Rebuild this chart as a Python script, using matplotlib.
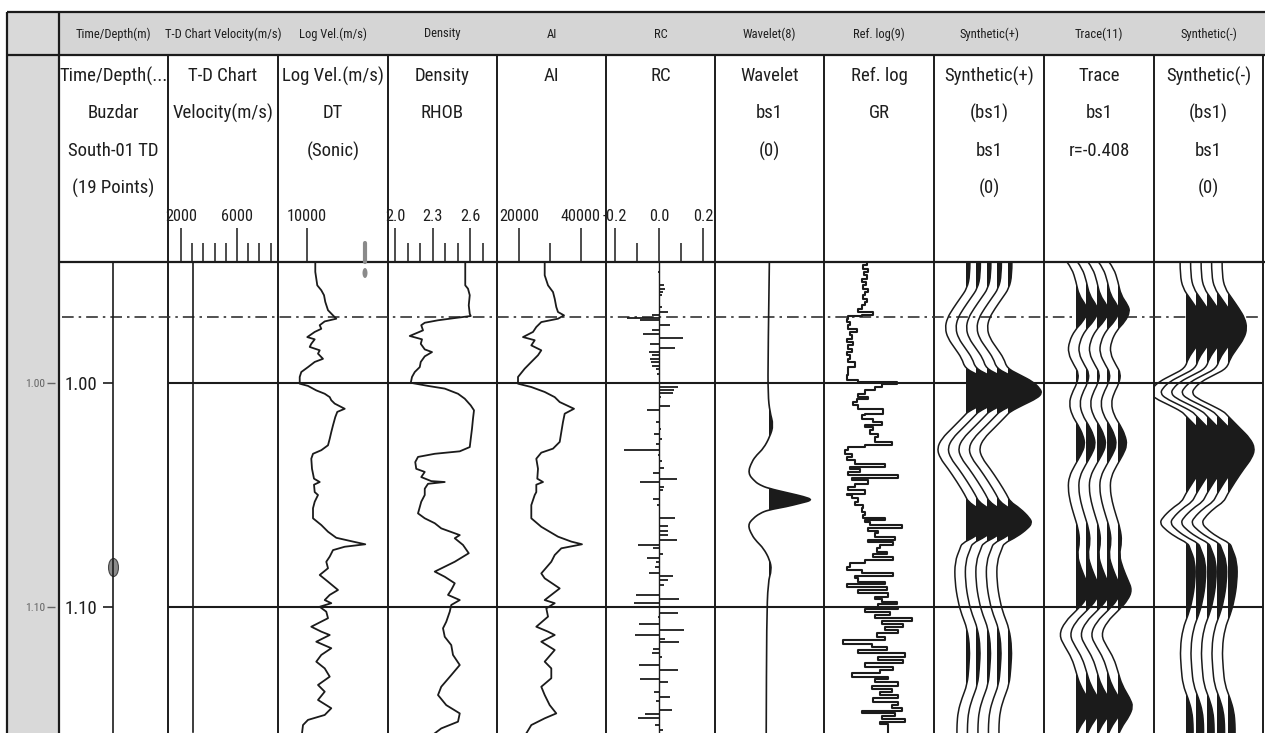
import os
import matplotlib
matplotlib.use("Agg")

import matplotlib.pyplot as plt
from matplotlib import font_manager
from matplotlib.font_manager import FontProperties
from matplotlib.path import Path
from matplotlib.patches import PathPatch, Rectangle, Ellipse
from matplotlib.transforms import Affine2D

plt.rcParams["font.family"] = ["Liberation Sans", "DejaVu Sans"]

# ---- well / seismic data (two-way time in s) ----
strip_titles = ["Time/Depth(m)", "T-D Chart Velocity(m/s)", "Log Vel.(m/s)", "Density", "AI", "RC",
                "Wavelet(8)", "Ref. log(9)", "Synthetic(+)", "Trace(11)", "Synthetic(-)"]
head_titles = [["Time/Depth(...", "Buzdar", "South-01 TD", "(19 Points)"],
               ["T-D Chart", "Velocity(m/s)"],
               ["Log Vel.(m/s)", "DT", "(Sonic)"],
               ["Density", "RHOB"],
               ["AI"],
               ["RC"],
               ["Wavelet", "bs1", "(0)"],
               ["Ref. log", "GR"],
               ["Synthetic(+)", "(bs1)", "bs1", "(0)"],
               ["Trace", "bs1", "r=-0.408"],
               ["Synthetic(-)", "(bs1)", "bs1", "(0)"]]

time_marks = [1.00, 1.10]
time_labels = ["1.00", "1.10"]
horizon_time = 0.9705
td_point_time = [1.0821]
td_time = [0.946, 1.156]
td_velocity = [2840, 2840]

vel_time = [0.9460, 0.9504, 0.9564, 0.9586, 0.9608, 0.9638, 0.9675, 0.9698, 0.9713, 0.9725,
            0.9742, 0.9758, 0.9772, 0.9795, 0.9805, 0.9825, 0.9839, 0.9854, 0.9869, 0.9892,
            0.9906, 0.9929, 0.9951, 0.9973, 1.0003, 1.0013, 1.0033, 1.0048, 1.0063, 1.0077,
            1.0092, 1.0115, 1.0129, 1.0152, 1.0189, 1.0219, 1.0249, 1.0278, 1.0300, 1.0316,
            1.0338, 1.0383, 1.0427, 1.0442, 1.0454, 1.0487,
            1.0500, 1.0530, 1.0559, 1.0604, 1.0634, 1.0664, 1.0691, 1.0708, 1.0720, 1.0731,
            1.0746, 1.0775, 1.0798, 1.0827, 1.0857, 1.0887, 1.0924, 1.0946, 1.0969, 1.0983,
            1.0999, 1.1021, 1.1050, 1.1088, 1.1110, 1.1125, 1.1155, 1.1184, 1.1214, 1.1244,
            1.1274, 1.1311, 1.1348, 1.1378, 1.1415, 1.1452, 1.1482, 1.1504, 1.1527, 1.1564]
vel_value = [10580, 10580, 10720, 11000, 11190, 11280, 11470, 11820, 12050, 11240,
             10890, 11000, 10540, 10020, 10540, 10300, 10190, 10890, 10770, 11120,
             10540, 10070, 9600, 9490, 9490, 10070, 10650, 11240, 11590, 11700,
             11940, 12640, 12120, 11980, 11820, 11700, 11590, 11470, 11000, 10420,
             10300, 10350, 10490, 10890, 10490, 10540,
             10770, 10540, 10420, 10420, 11000, 11470, 12050, 13220, 14080, 12640,
             11820, 11590, 11350, 11470, 10890, 11470, 12170, 11590, 11240, 11700,
             10890, 11350, 11470, 10300, 11000, 11590, 10650, 11700, 11000, 10650,
             11240, 11590, 10770, 11240, 10770, 11700, 11240, 10070, 9720, 9650]

dens_time = [0.9460, 0.9564, 0.9579, 0.9608, 0.9653, 0.9691, 0.9701, 0.9710, 0.9720, 0.9731,
             0.9742, 0.9765, 0.9790, 0.9805, 0.9825, 0.9850, 0.9862, 0.9881, 0.9906, 0.9929,
             0.9951, 0.9973, 0.9999, 1.0013, 1.0025, 1.0048, 1.0070, 1.0100, 1.0122, 1.0159,
             1.0204, 1.0249, 1.0286, 1.0305, 1.0316, 1.0330, 1.0353, 1.0383, 1.0397, 1.0420,
             1.0438, 1.0442, 1.0450, 1.0472,
             1.0500, 1.0530, 1.0582, 1.0604, 1.0626, 1.0649, 1.0679, 1.0693, 1.0723, 1.0760,
             1.0798, 1.0842, 1.0865, 1.0894, 1.0924, 1.0946, 1.0969, 1.0991, 1.1021, 1.1066,
             1.1095, 1.1133, 1.1170, 1.1214, 1.1259, 1.1304, 1.1356, 1.1393, 1.1438, 1.1475,
             1.1512, 1.1542, 1.1564]
dens_value = [2.562, 2.562, 2.584, 2.598, 2.590, 2.598, 2.606, 2.478, 2.344, 2.238,
              2.210, 2.224, 2.118, 2.216, 2.206, 2.238, 2.296, 2.238, 2.206, 2.198,
              2.158, 2.136, 2.126, 2.264, 2.398, 2.504, 2.558, 2.606, 2.632, 2.624,
              2.616, 2.606, 2.598, 2.518, 2.318, 2.184, 2.162, 2.170, 2.238, 2.210,
              2.290, 2.398, 2.264, 2.238,
              2.238, 2.210, 2.184, 2.238, 2.318, 2.370, 2.518, 2.478, 2.544, 2.590,
              2.478, 2.318, 2.398, 2.478, 2.450, 2.424, 2.518, 2.450, 2.438, 2.410,
              2.384, 2.398, 2.450, 2.464, 2.518, 2.450, 2.370, 2.344, 2.410, 2.518,
              2.504, 2.370, 2.318]

ai_time = [0.9460, 0.9519, 0.9564, 0.9594, 0.9624, 0.9661, 0.9683, 0.9698, 0.9713, 0.9728,
           0.9750, 0.9772, 0.9795, 0.9809, 0.9832, 0.9854, 0.9876, 0.9906, 0.9936, 0.9973,
           1.0003, 1.0018, 1.0040, 1.0063, 1.0085, 1.0115, 1.0137, 1.0174, 1.0219, 1.0263,
           1.0293, 1.0311, 1.0338, 1.0383, 1.0427, 1.0442, 1.0454, 1.0487,
           1.0500, 1.0545, 1.0604, 1.0642, 1.0686, 1.0708, 1.0720, 1.0738, 1.0768, 1.0798,
           1.0850, 1.0872, 1.0917, 1.0946, 1.0969, 1.0983, 1.1006, 1.1043, 1.1088, 1.1110,
           1.1125, 1.1155, 1.1192, 1.1244, 1.1274, 1.1318, 1.1356, 1.1393, 1.1438, 1.1475,
           1.1497, 1.1527, 1.1564]
ai_value = [28290, 28290, 29360, 30970, 31520, 32030, 32580, 34520, 32580, 27190,
            25580, 24520, 21290, 25070, 23970, 27190, 26130, 23970, 21840, 19680,
            19680, 23970, 28290, 31520, 33130, 37740, 34740, 34190, 33650, 33130,
            30970, 27190, 25580, 26130, 25900, 27740, 25580, 25580,
            25070, 23970, 23970, 27190, 32580, 36870, 40320, 33650, 31520, 30420,
            27190, 28290, 33130, 30420, 28290, 31520, 28810, 29360, 25580, 29360,
            31520, 27190, 31520, 28290, 30420, 30420, 27190, 28290, 29900, 32030,
            28290, 23970, 22360]

rc_time = [0.9504, 0.9564, 0.9579, 0.9594, 0.9609, 0.9661, 0.9683, 0.9698, 0.9710, 0.9720,
           0.9743, 0.9765, 0.9780, 0.9799, 0.9824, 0.9844, 0.9862, 0.9876, 0.9891, 0.9906,
           0.9924, 0.9939, 0.9958, 1.0018, 1.0033, 1.0043, 1.0062, 1.0103, 1.0122, 1.0174,
           1.0204, 1.0226, 1.0249, 1.0271, 1.0301, 1.0323, 1.0350, 1.0379, 1.0400, 1.0427,
           1.0442, 1.0464, 1.0479, 1.0519, 1.0546, 1.0603, 1.0638, 1.0662, 1.0680, 1.0699,
           1.0722, 1.0737, 1.0762, 1.0781, 1.0799, 1.0821, 1.0847, 1.0863, 1.0881, 1.0900,
           1.0945, 1.0963, 1.0981, 1.1025, 1.1045, 1.1076, 1.1104, 1.1123, 1.1141, 1.1156,
           1.1186, 1.1204, 1.1223, 1.1257, 1.1283, 1.1320, 1.1335, 1.1379, 1.1402, 1.1421,
           1.1461, 1.1476, 1.1496, 1.1525, 1.1551]
rc_value = [-0.003, 0.023, 0.027, 0.020, 0.012, 0.012, 0.042, -0.033, -0.147, -0.086,
            0.050, -0.033, -0.071, 0.108, -0.041, 0.073, -0.044, -0.033, -0.041, -0.038,
            -0.033, -0.014, -0.008, 0.088, 0.068, 0.062, 0.008, 0.050, -0.053, -0.014,
            0.009, -0.023, 0.012, -0.014, -0.159, -0.003, 0.012, 0.023, -0.026, 0.080,
            -0.086, 0.023, 0.017, -0.026, -0.011, 0.073, 0.042, 0.042, 0.042, 0.083,
            -0.094, -0.029, 0.020, -0.056, -0.014, -0.018, -0.044, 0.062, 0.042, 0.023,
            -0.105, 0.092, -0.112, 0.088, -0.003, -0.089, 0.114, -0.109, 0.027, 0.092,
            -0.026, -0.033, 0.012, -0.089, 0.088, -0.086, 0.042, -0.023, 0.050, -0.014,
            0.058, -0.064, -0.094, -0.018, 0.020]

wavelet_time = [0.9460, 0.9875, 1.0054, 1.0128, 1.0188, 1.0240, 1.0292, 1.0321, 1.0351, 1.0403,
                1.0440, 1.0455, 1.0470, 1.0493, 1.0507, 1.0522, 1.0537, 1.0552, 1.0567, 1.0582,
                1.0604, 1.0634, 1.0679, 1.0708, 1.0738, 1.0790, 1.0835, 1.0887, 1.1066, 1.1563]
wavelet_amp = [0.03, 0.00, 0.00, 0.04, 0.12, 0.04, -0.10, -0.25, -0.36, -0.45,
               -0.29, -0.18, 0.00, 0.49, 0.79, 1.00, 0.71, 0.41, 0.00, -0.18,
               -0.33, -0.45, -0.36, -0.25, -0.10, 0.04, 0.08, 0.00, -0.03, -0.04]

gr_time = [0.9460, 0.9475, 0.9490, 0.9505, 0.9520, 0.9534, 0.9549, 0.9564, 0.9579, 0.9594,
           0.9609, 0.9624, 0.9639, 0.9653, 0.9668, 0.9683, 0.9695, 0.9703, 0.9713, 0.9728,
           0.9743, 0.9758, 0.9772, 0.9787, 0.9802, 0.9817, 0.9832, 0.9847, 0.9862, 0.9877,
           0.9891, 0.9906, 0.9929, 0.9944, 0.9966, 0.9988, 0.9996, 1.0003, 1.0018, 1.0033,
           1.0048, 1.0063, 1.0070, 1.0085, 1.0100, 1.0115, 1.0137, 1.0145, 1.0159, 1.0174,
           1.0186, 1.0197, 1.0211, 1.0226, 1.0241, 1.0264, 1.0278, 1.0286, 1.0301, 1.0316,
           1.0330, 1.0345, 1.0360, 1.0375, 1.0386, 1.0397, 1.0412, 1.0424, 1.0435, 1.0450,
           1.0464, 1.0479, 1.0494,
           1.0500, 1.0515, 1.0530, 1.0545, 1.0560, 1.0574, 1.0589, 1.0604, 1.0612, 1.0622,
           1.0634, 1.0649, 1.0661, 1.0671, 1.0686, 1.0701, 1.0711, 1.0723, 1.0738, 1.0753,
           1.0765, 1.0775, 1.0790, 1.0805, 1.0820, 1.0835, 1.0850, 1.0860, 1.0872, 1.0887,
           1.0899, 1.0909, 1.0924, 1.0939, 1.0954, 1.0964, 1.0976, 1.0988, 1.0999, 1.1010,
           1.1024, 1.1036, 1.1048, 1.1063, 1.1074, 1.1088, 1.1103, 1.1118, 1.1132, 1.1147,
           1.1167, 1.1177, 1.1192, 1.1207, 1.1222, 1.1237, 1.1251, 1.1266, 1.1281, 1.1296,
           1.1311, 1.1321, 1.1333, 1.1351, 1.1366, 1.1378, 1.1393, 1.1408, 1.1423, 1.1438,
           1.1452, 1.1464, 1.1475, 1.1485, 1.1500, 1.1512, 1.1524, 1.1542, 1.1564]
gr_value = [55.9, 58.2, 53.6, 59.5, 55.0, 58.2, 51.4, 56.8, 53.6, 59.5,
            55.9, 53.6, 58.2, 55.9, 51.4, 46.8, 67.3, 51.4, 33.2, 30.9,
            35.5, 33.2, 44.5, 35.5, 37.7, 30.9, 40.0, 33.2, 37.7, 30.9,
            35.5, 33.2, 42.3, 32.3, 33.2, 30.9, 46.8, 99.1, 78.6, 69.5,
            55.9, 46.8, 60.4, 44.5, 40.0, 46.8, 80.9, 55.9, 51.4, 67.3,
            78.6, 55.9, 67.3, 62.7, 74.1, 69.5, 92.3, 55.9, 33.2, 28.6,
            37.7, 30.9, 42.3, 83.2, 35.5, 49.1, 33.2, 101.4, 37.7, 60.4,
            42.3, 33.2, 55.9,
            30.9, 37.7, 46.8, 42.3, 53.6, 51.4, 55.9, 53.6, 83.2, 55.9,
            62.7, 105.9, 60.4, 74.1, 69.5, 96.8, 60.4, 94.5, 76.4, 71.8,
            85.4, 67.3, 94.5, 55.9, 35.5, 30.9, 51.4, 94.5, 42.3, 46.8,
            83.2, 30.9, 85.4, 46.8, 87.7, 69.5, 78.6, 99.1, 74.1, 101.4,
            55.9, 90.0, 69.5, 119.5, 78.6, 108.2, 83.2, 101.4, 71.8, 83.2,
            26.4, 65.0, 85.4, 46.8, 110.4, 74.1, 108.2, 55.9, 94.5, 76.4,
            37.7, 87.7, 69.5, 101.4, 65.0, 92.3, 76.4, 101.4, 67.3, 101.4,
            92.3, 105.9, 51.4, 96.8, 78.6, 110.4, 76.4, 87.7, 87.7]

synth_time = [0.9460, 0.9518, 0.9577, 0.9622, 0.9667, 0.9711, 0.9756, 0.9800, 0.9845, 0.9890,
              0.9934, 0.9964, 0.9994, 1.0024, 1.0046, 1.0068, 1.0098, 1.0128, 1.0143, 1.0202,
              1.0247, 1.0292, 1.0336, 1.0381, 1.0441, 1.0500, 1.0530, 1.0559, 1.0604, 1.0626,
              1.0649, 1.0686, 1.0716, 1.0738, 1.0798, 1.0887, 1.0976, 1.1036, 1.1095, 1.1184,
              1.1274, 1.1348, 1.1408, 1.1467, 1.1527, 1.1563]
synth_amp = [0.14, 0.14, 0.06, -0.14, -0.34, -0.51, -0.57, -0.49, -0.29, -0.09,
             0.00, 0.37, 0.74, 0.94, 1.00, 0.86, 0.46, 0.09, 0.00, -0.37,
             -0.66, -0.80, -0.71, -0.49, -0.23, 0.00, 0.09, 0.37, 0.66, 0.71,
             0.60, 0.29, -0.09, -0.14, -0.29, -0.29, -0.20, -0.09, 0.06, 0.14,
             0.11, 0.06, -0.09, -0.20, -0.23, -0.23]

trace_time = [0.9460, 0.9488, 0.9548, 0.9607, 0.9652, 0.9682, 0.9726, 0.9763, 0.9816, 0.9867,
              0.9920, 0.9957, 1.0001, 1.0046, 1.0091, 1.0143, 1.0188, 1.0232, 1.0277, 1.0321,
              1.0366, 1.0418, 1.0470, 1.0530, 1.0589, 1.0649, 1.0708, 1.0768, 1.0827, 1.0879,
              1.0924, 1.0969, 1.1013, 1.1066, 1.1125, 1.1177, 1.1229, 1.1289, 1.1348, 1.1408,
              1.1445, 1.1490, 1.1527, 1.1563]
trace_amp = [-0.23, -0.09, 0.03, 0.11, 0.31, 0.37, 0.23, 0.00, -0.17, -0.20,
             -0.03, 0.11, 0.06, -0.09, -0.17, -0.09, 0.09, 0.23, 0.29, 0.17,
             0.00, -0.17, -0.20, -0.14, -0.03, 0.09, 0.14, 0.06, 0.17, 0.31,
             0.43, 0.31, 0.06, -0.29, -0.46, -0.29, -0.09, 0.03, 0.14, 0.37,
             0.46, 0.34, 0.17, 0.06]

# ---- layout ----
W, H = 1265, 733
T_TOP, T_BOT = 0.94598, 1.15625
INK = "#1b1b1b"
col_edges = [59, 168, 278, 388, 497, 606, 715, 824, 934, 1044, 1154, 1263]
GAIN = 35          # px per unit amplitude on the seismic tracks


def pick_face():
    # prefer a narrow sans face for the crowded headers
    wanted = ["liberationsansnarrow-regular", "robotocondensed-regular", "dejavusanscondensed.",
              "opensans_condensed-regular", "opensanscondensed-regular", "notosans-condensed."]
    files = [f.fname for f in font_manager.fontManager.ttflist]
    for key in wanted:
        for fn in files:
            if os.path.basename(fn).lower().startswith(key):
                return FontProperties(fname=fn)
    return FontProperties(family="Liberation Sans")


def box(x0, y0, x1, y1):
    return [x0 / W, 1 - y1 / H, (x1 - x0) / W, (y1 - y0) / H]


fig = plt.figure(figsize=(W / 100, H / 100), dpi=100)
fig.patch.set_facecolor("white")
renderer = fig.canvas.get_renderer()
face = pick_face()


def fitted(sample, width_px):
    probe_fp = face.copy()
    probe_fp.set_size(20)
    probe = fig.text(0, 0, sample, fontproperties=probe_fp)
    w = probe.get_window_extent(renderer).width
    probe.remove()
    fp = face.copy()
    fp.set_size(20 * width_px / w)
    return fp


fp_head = fitted("Log Vel.(m/s)", 102)
fp_scale = fitted("40000", 40)
fp_strip = fitted("T-D Chart Velocity(m/s)", 116)
fp_margin = fitted("1.00", 20)


def track(i, xlim):
    ax = fig.add_axes(box(col_edges[i], 262, col_edges[i + 1], 733))
    ax.set_xlim(*xlim)
    ax.set_ylim(T_BOT, T_TOP)
    ax.patch.set_visible(False)
    for s in ax.spines.values():
        s.set_visible(False)
    ax.set_xticks([])
    ax.set_yticks([])
    return ax


def header_scale(ax, major, labels, minor):
    ax.set_xticks(major)
    ax.set_xticks(minor, minor=True)
    ax.tick_params(axis="x", which="both", top=True, bottom=False, labeltop=True,
                   labelbottom=False, direction="out", width=1.1, color=INK)
    ax.tick_params(axis="x", which="major", length=24.5, pad=3, labelcolor="#1e1e1e")
    ax.tick_params(axis="x", which="minor", length=13.5)
    ax.set_xticklabels(labels, fontproperties=fp_scale)


def smooth(xs, ys):
    # quadratic Bezier through the midpoints, samples act as control points
    verts = [(xs[0], ys[0])]
    codes = [Path.MOVETO]
    for i in range(1, len(xs) - 1):
        verts += [(xs[i], ys[i]), ((xs[i] + xs[i + 1]) / 2, (ys[i] + ys[i + 1]) / 2)]
        codes += [Path.CURVE3, Path.CURVE3]
    verts.append((xs[-1], ys[-1]))
    codes.append(Path.LINETO)
    return verts, codes


def wiggle(ax, base, gain, amps, times, lw=1.1):
    verts, codes = smooth([base + gain * a for a in amps], times)
    ax.add_patch(PathPatch(Path(verts, codes), fc="none", ec=INK, lw=lw))


def positive_fill(ax, base, gain, amps, times, edge):
    # variable-area fill: region between curve and base line, kept only right of the base
    verts, codes = smooth([base + gain * a for a in amps], times)
    area = Path(verts + [(base, times[-1]), (base, times[0]), (base, times[0])],
                codes + [Path.LINETO, Path.LINETO, Path.CLOSEPOLY])
    fill = PathPatch(area, fc=INK, ec="none")
    ax.add_patch(fill)
    fill.set_clip_path(Rectangle((base + edge, T_TOP), 1000, T_BOT - T_TOP, transform=ax.transData))


# static frame: grey strips, borders, column titles
frame = fig.add_axes([0, 0, 1, 1])
frame.set_xlim(0, W)
frame.set_ylim(H, 0)
frame.axis("off")
frame.add_patch(Rectangle((7, 12), 52, H - 12, fc="#d9d9d9", ec="none"))
frame.add_patch(Rectangle((59, 12), W - 59, 43, fc="#d5d5d5", ec="none"))
frame.hlines([12, 55], 7, W, color=INK, lw=1.6)
frame.hlines(262, 59, W, color=INK, lw=1.6)
frame.vlines([7, 59], 12, H, color=INK, lw=1.6)
frame.vlines(col_edges[1:], 55, H, color=INK, lw=1.4)

for i, title in enumerate(strip_titles):
    cx = (col_edges[i] + col_edges[i + 1]) / 2
    frame.text(cx, 34, title, ha="center", va="center", fontproperties=fp_strip, color="#1e1e1e")
    for j, line in enumerate(head_titles[i]):
        frame.text(cx, 76 + 37.5 * j, line, ha="center", va="center", fontproperties=fp_head, color="#1e1e1e")

# sonic cursor mark
frame.plot([365, 365], [243, 262], color="#8a8a8a", lw=3, solid_capstyle="round")
frame.add_patch(Ellipse((365, 273), 5, 10, fc="#8a8a8a", ec="none"))

# time grid shared by all tracks
grid = fig.add_axes(box(59, 262, W, 733))
grid.set_xlim(59, W)
grid.set_ylim(T_BOT, T_TOP)
grid.axis("off")
grid.hlines(time_marks, 168, 1263, color=INK, lw=1.5)
grid.hlines(horizon_time, 62, 1263, color="#333333", lw=1.2, linestyles=[(0, (7, 3, 1.5, 3))])

# time axis in the grey margin
margin = fig.add_axes(box(55, 262, 59, 733))
margin.set_ylim(T_BOT, T_TOP)
margin.set_xticks([])
for s in margin.spines.values():
    s.set_visible(False)
margin.patch.set_visible(False)
margin.set_yticks(time_marks)
margin.tick_params(axis="y", length=6, width=1.0, color="#666", labelcolor="#666", pad=1)
margin.set_yticklabels(time_labels, fontproperties=fp_margin)

# Time/Depth column
td_ax = fig.add_axes(box(113, 262, 168, 733))
td_ax.set_xlim(0, 1)
td_ax.set_ylim(T_BOT, T_TOP)
td_ax.patch.set_visible(False)
for side in ("top", "right", "bottom"):
    td_ax.spines[side].set_visible(False)
td_ax.spines["left"].set_linewidth(1.2)
td_ax.spines["left"].set_color(INK)
td_ax.set_xticks([])
td_ax.set_yticks(time_marks)
td_ax.tick_params(axis="y", length=7, width=1.2, color=INK, labelcolor="#1e1e1e", pad=4)
td_ax.set_yticklabels(time_labels, fontproperties=fp_head)
oval = Path.unit_circle().transformed(Affine2D().scale(0.55, 1.0))
td_ax.plot([0] * len(td_point_time), td_point_time, linestyle="none", marker=oval, markersize=13,
           mfc="#8c8c8c", mec="#444", mew=0.8, clip_on=False)

# T-D chart velocity
ax = track(1, (1071, 8929))
header_scale(ax, [2000, 6000], ["2000", "6000"], [2800, 3600, 4400, 5200, 6800, 7600, 8400])
ax.plot(td_velocity, td_time, color=INK, lw=1.2)

# sonic velocity
ax = track(2, (7970, 15670))
header_scale(ax, [10000], ["10000"], [])
ax.plot(vel_value, vel_time, color=INK, lw=1.3)

# density
ax = track(3, (1.944, 2.816))
header_scale(ax, [2.0, 2.3, 2.6], ["2.0", "2.3", "2.6"], [2.1, 2.2, 2.4, 2.5, 2.7])
ax.plot(dens_value, dens_time, color=INK, lw=1.3)

# acoustic impedance
ax = track(4, (12903, 48065))
header_scale(ax, [20000, 40000], ["20000", "40000"], [30000])
ax.plot(ai_value, ai_time, color=INK, lw=1.3)

# reflection coefficients
ax = track(5, (-0.2409, 0.2545))
header_scale(ax, [-0.2, 0.0, 0.2], ["-0.2", "0.0", "0.2"], [-0.1, 0.1])
ax.axvline(0, color=INK, lw=1.0)
ax.hlines(rc_time, 0, rc_value, color=INK, lw=1.3)

# wavelet
ax = track(6, (-1.178, 1.244))
wiggle(ax, 0.0, 1.0, wavelet_amp, wavelet_time, lw=1.2)
positive_fill(ax, 0.0, 1.0, wavelet_amp, wavelet_time, 0.015)

# reference gamma ray
ax = track(7, (0, 150))
ax.plot(gr_value, gr_time, color=INK, lw=1.5, drawstyle="steps-post")

# synthetic (+), real trace, synthetic (-): five repeated traces each
for i, amps, times in ((8, synth_amp, synth_time),
                       (9, trace_amp, trace_time),
                       (10, [-a for a in synth_amp], synth_time)):
    ax = track(i, (0, col_edges[i + 1] - col_edges[i]))
    bases = [31 + 10.5 * k for k in range(5)]
    for b in bases:
        wiggle(ax, b, GAIN, amps, times)
    for b in bases:
        positive_fill(ax, b, GAIN, amps, times, 0.8)

fig.savefig("out.png", dpi=100)
plt.close(fig)
